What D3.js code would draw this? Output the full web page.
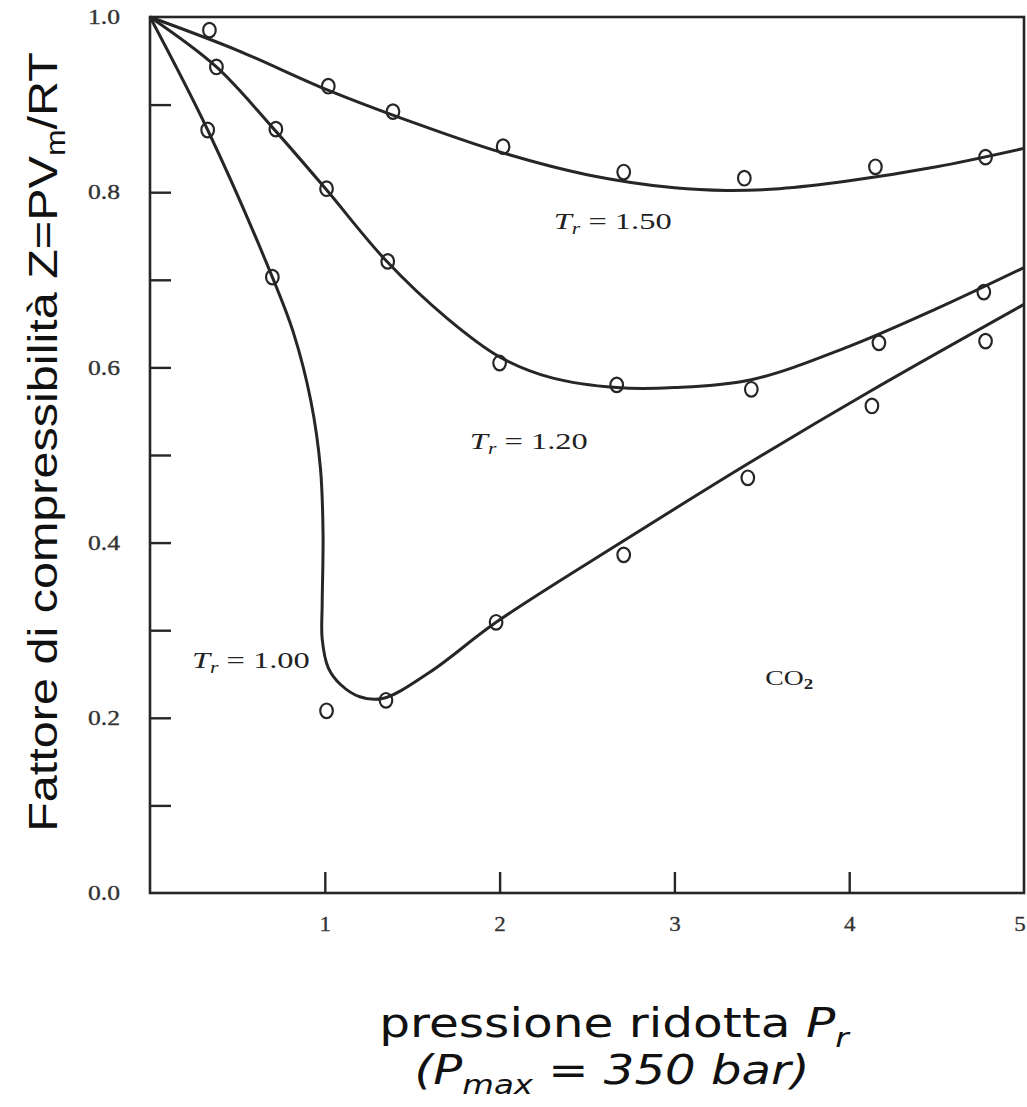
<!DOCTYPE html>
<html>
<head>
<meta charset="utf-8">
<script src="https://cdn.jsdelivr.net/npm/d3@7"></script>
<style>
  html, body { margin: 0; padding: 0; background: #fff; }
  svg { display: block; }
</style>
</head>
<body>
<svg id="chart" width="1027" height="1107"></svg>
<script>
// Reduced pressure (x) and compressibility factor (y) for CO2 at three reduced temperatures

// Measured points (circles)
const prPoints15 = [0.34, 1.02, 1.39, 2.02, 2.71, 3.40, 4.15, 4.78];
const zPoints15  = [0.985, 0.921, 0.892, 0.852, 0.823, 0.816, 0.829, 0.840];

const prPoints12 = [0.38, 0.72, 1.01, 1.36, 2.00, 2.67, 3.44, 4.17, 4.77];
const zPoints12  = [0.943, 0.872, 0.804, 0.721, 0.605, 0.580, 0.575, 0.628, 0.686];

const prPoints10 = [0.33, 0.70, 1.01, 1.35, 1.98, 2.71, 3.42, 4.13, 4.78];
const zPoints10  = [0.871, 0.703, 0.208, 0.220, 0.309, 0.386, 0.474, 0.556, 0.630];

// Smooth fitted curves (knots along each curve)
const prCurve15 = [0, 0.5, 1.0, 1.5, 2.0, 2.5, 3.0, 3.3, 3.6, 4.0, 4.5, 5.0];
const zCurve15  = [1.0, 0.962, 0.918, 0.880, 0.846, 0.820, 0.805, 0.802, 0.804, 0.813, 0.829, 0.850];

const prCurve12 = [0, 0.38, 0.7, 1.0, 1.35, 1.7, 2.0, 2.3, 2.67, 3.0, 3.44, 4.0, 4.5, 5.0];
const zCurve12  = [1.0, 0.943, 0.874, 0.805, 0.722, 0.656, 0.612, 0.588, 0.577, 0.577, 0.586, 0.624, 0.667, 0.714];

const prCurve10 = [0, 0.33, 0.70, 0.82, 0.92, 0.975, 0.99, 0.985, 0.985, 1.02, 1.09, 1.20, 1.33, 1.6, 1.98, 2.71, 3.42, 4.13, 5.0];
const zCurve10  = [1.0, 0.871, 0.703, 0.640, 0.562, 0.485, 0.410, 0.330, 0.290, 0.257, 0.238, 0.224, 0.222, 0.252, 0.309, 0.402, 0.490, 0.574, 0.672];

// Axis ticks
const xTickValues = [1, 2, 3, 4, 5];
const yMinorTicks = [0.1, 0.2, 0.3, 0.4, 0.5, 0.6, 0.7, 0.8, 0.9];
const yLabelTicks = [0.0, 0.2, 0.4, 0.6, 0.8, 1.0];

// Curve annotations
const curveLabels = [
  { t: "1.50", pr: 2.31, z: 0.758 },
  { t: "1.20", pr: 1.83, z: 0.507 },
  { t: "1.00", pr: 0.24, z: 0.257 }
];

const svg = d3.select("#chart");
const ink = "#262626";
const serif = "'Liberation Serif', 'DejaVu Serif', serif";
const sans = "'DejaVu Sans', Verdana, sans-serif";

const x = d3.scaleLinear().domain([0, 5]).range([150, 1024]);
const y = d3.scaleLinear().domain([0, 1]).range([893, 17]);

// Widen a text element horizontally about its anchor point
function stretchX(sel, k) {
  const x0 = +(sel.attr("x") || 0);
  sel.attr("transform", `translate(${x0 * (1 - k)},0) scale(${k},1)`);
}
function stretchTo(sel, width) {
  const w = sel.node().getBBox().width;
  stretchX(sel, width / w);
}

// Plot frame
svg.append("rect")
  .attr("x", x(0)).attr("y", y(1))
  .attr("width", x(5) - x(0)).attr("height", y(0) - y(1))
  .attr("fill", "none").attr("stroke", ink).attr("stroke-width", 2.6);

// Inward ticks on the left axis
const yTickAxis = svg.append("g")
  .attr("transform", `translate(${x(0)},0)`)
  .call(d3.axisLeft(y).tickValues(yMinorTicks).tickSize(-21).tickFormat(""));
yTickAxis.select(".domain").remove();
yTickAxis.selectAll("line").attr("stroke", ink).attr("stroke-width", 2.4);

// Left axis labels
const yLabelAxis = svg.append("g")
  .attr("transform", `translate(${x(0)},0)`)
  .call(d3.axisLeft(y).tickValues(yLabelTicks).tickSize(0).tickPadding(30)
        .tickFormat(d3.format(".1f")));
yLabelAxis.attr("font-family", serif).attr("font-size", 21);
yLabelAxis.select(".domain").remove();
yLabelAxis.selectAll("text").attr("fill", "#333")
  .attr("stroke", "#333").attr("stroke-width", 0.35)
  .each(function () { stretchX(d3.select(this), 1.22); });

// Bottom axis: inward ticks, labels below
const xAxis = svg.append("g")
  .attr("transform", `translate(0,${y(0)})`)
  .call(d3.axisBottom(x).tickValues(xTickValues).tickSize(-21).tickPadding(24)
        .tickFormat(d3.format("d")));
xAxis.attr("font-family", serif).attr("font-size", 20);
xAxis.select(".domain").remove();
xAxis.selectAll("line").attr("stroke", ink).attr("stroke-width", 2.4)
  .filter(d => d === 5).remove();
xAxis.selectAll("text").attr("fill", "#333")
  .attr("stroke", "#333").attr("stroke-width", 0.3)
  .each(function () { stretchX(d3.select(this), 1.15); })
  .filter(d => d === 5).attr("dx", -4);

// Fitted curves
const line = d3.line()
  .x(d => x(d[0])).y(d => y(d[1]))
  .curve(d3.curveCatmullRom.alpha(0.5));

const curves = [
  d3.zip(prCurve15, zCurve15),
  d3.zip(prCurve12, zCurve12),
  d3.zip(prCurve10, zCurve10)
];
svg.append("g").selectAll("path")
  .data(curves)
  .join("path")
  .attr("d", line)
  .attr("fill", "none")
  .attr("stroke", ink)
  .attr("stroke-width", 3)
  .attr("stroke-linejoin", "round");

// Measured points
const points = [
  ...d3.zip(prPoints15, zPoints15),
  ...d3.zip(prPoints12, zPoints12),
  ...d3.zip(prPoints10, zPoints10)
];
svg.append("g").selectAll("ellipse")
  .data(points)
  .join("ellipse")
  .attr("cx", d => x(d[0]))
  .attr("cy", d => y(d[1]))
  .attr("rx", 6.3).attr("ry", 7.3)
  .attr("fill", "none")
  .attr("stroke", ink)
  .attr("stroke-width", 2.2);

// Temperature labels "Tr = ..."
curveLabels.forEach(l => {
  const t = svg.append("text")
    .attr("x", x(l.pr)).attr("y", y(l.z))
    .attr("font-family", serif).attr("font-size", 24).attr("fill", "#222");
  t.append("tspan").attr("font-style", "italic").text("T");
  t.append("tspan").attr("font-style", "italic").attr("font-size", 16).attr("dy", 5).text("r");
  t.append("tspan").attr("dy", -5).text("\u00a0= " + l.t);
  stretchTo(t, 118);
});

// Substance label
const co2 = svg.append("text")
  .attr("x", x(3.52)).attr("y", y(0.238))
  .attr("font-family", serif).attr("font-size", 22).attr("fill", "#222");
co2.append("tspan").text("CO");
co2.append("tspan").attr("font-size", 15).attr("font-weight", "bold").attr("dy", 5).text("2");
stretchTo(co2, 48);

// Y axis title (rotated, condensed to span the axis)
const yTitleG = svg.append("g").attr("transform", "translate(57,442) rotate(-90)");
const yTitle = yTitleG.append("text")
  .attr("text-anchor", "middle")
  .attr("font-family", "'Liberation Sans', Arial, sans-serif")
  .attr("font-size", 41).attr("fill", "#111");
yTitle.append("tspan").text("Fattore di compressibilità Z=PV");
yTitle.append("tspan").attr("font-size", 27).attr("dy", 8).text("m");
yTitle.append("tspan").attr("dy", -8).text("/RT");
const natural = yTitle.node().getComputedTextLength();
yTitle.attr("transform", `scale(${780 / natural},1)`);

// X axis title
const xt1 = svg.append("text")
  .attr("x", 614).attr("y", 1037)
  .attr("text-anchor", "middle")
  .attr("font-family", sans).attr("font-size", 40).attr("fill", "#111");
xt1.append("tspan").text("pressione ridotta ");
xt1.append("tspan").attr("font-style", "italic").text("P");
xt1.append("tspan").attr("font-style", "italic").attr("font-size", 27).attr("dy", 10).text("r");
stretchTo(xt1, 472);

const xt2 = svg.append("text")
  .attr("x", 612).attr("y", 1084)
  .attr("text-anchor", "middle")
  .attr("font-family", sans).attr("font-size", 40).attr("font-style", "italic").attr("fill", "#111");
xt2.append("tspan").text("(P");
xt2.append("tspan").attr("font-size", 27).attr("dy", 10).text("max");
xt2.append("tspan").attr("dy", -10).text(" = 350 bar)");
stretchTo(xt2, 395);
</script>
</body>
</html>
